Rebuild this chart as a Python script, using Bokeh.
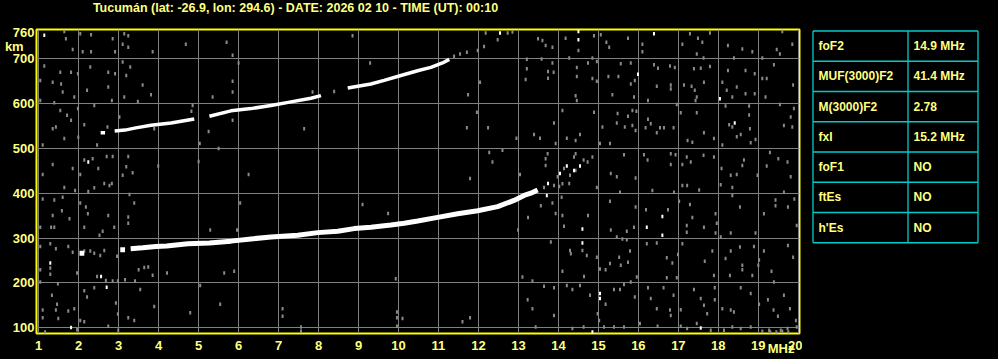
from bokeh.plotting import figure
from bokeh.models import Range1d, FixedTicker, LinearAxis
from bokeh.layouts import row, column
from bokeh.core.properties import value
from bokeh.embed import file_html
from bokeh.resources import INLINE

# ---------------- data ----------------
station = "Tucumán"
lat, lon = -26.9, 294.6
date_str = "2026 02 10"
time_ut = "00:10"
title_text = f"{station} (lat: {lat}, lon: {lon}) - DATE: {date_str} - TIME (UT): {time_ut}"

freq_ticks = list(range(1, 21))                          # MHz
height_ticks = [100, 200, 300, 400, 500, 600, 700, 760]  # km
grid_heights = [100, 200, 300, 400, 500, 600, 700]
height_unit = "km"
freq_unit = "MHz"

params = ["foF2", "MUF(3000)F2", "M(3000)F2", "fxI", "foF1", "ftEs", "h'Es"]
param_values = ["14.9 MHz", "41.4 MHz", "2.78", "15.2 MHz", "NO", "NO", "NO"]

# first-hop F2 trace (frequency MHz, virtual height km), in segments
f2_seg1_f = [2.02, 2.14]
f2_seg1_h = [266, 266]
f2_seg2_f = [3.04, 3.16]
f2_seg2_h = [274, 274]
f2_main_f = [3.30, 3.60, 3.93, 4.20, 4.73, 5.27, 5.81, 6.31, 6.81, 7.48, 7.98, 8.48,
             8.89, 9.31, 9.81, 10.14, 10.48, 10.98, 11.48, 11.98, 12.48, 12.89, 13.14,
             13.31, 13.48]
f2_main_h = [276, 278, 281, 282, 287, 289, 293, 298, 302, 306, 312, 315,
             321, 324, 329, 333, 338, 346, 354, 361, 370, 384, 395,
             400, 407]

# second-hop F2 trace
hop2_seg1_f = [2.55, 2.66]
hop2_seg1_h = [535, 535]
hop2_seg2_f = [2.90, 3.16, 3.43, 3.81, 4.31, 4.89]
hop2_seg2_h = [539, 541, 546, 552, 557, 566]
hop2_seg3_f = [5.27, 5.81, 6.31, 6.81, 7.31, 7.81, 8.06]
hop2_seg3_h = [572, 584, 589, 596, 604, 612, 618]
hop2_seg4_f = [8.73, 9.31, 9.64, 10.06, 10.50, 10.81, 11.10, 11.27]
hop2_seg4_h = [635, 644, 652, 663, 674, 681, 691, 699]

# scattered weak echoes (gray)
gray_echoes = [
    (1.64, 761), (1.68, 745), (2.04, 756), (2.31, 754), (2.85, 745), (3.14, 756), (3.24, 752),
    (1.85, 721), (2.1, 716), (2.31, 716), (2.91, 716), (3.1, 733), (3.24, 726), (3.85, 716),
    (4.68, 733), (5.7, 737), (5.85, 708), (6.0, 691), (8.85, 752), (9.29, 691), (1.14, 684),
    (1.54, 670), (1.81, 670), (1.98, 667), (2.29, 682), (2.74, 670), (2.91, 667), (3.1, 693),
    (3.19, 663), (3.29, 682), (1.04, 652), (1.35, 648), (1.56, 644), (1.6, 626), (1.89, 615),
    (2.21, 630), (2.74, 637), (2.83, 607), (3.14, 615), (3.48, 605), (3.6, 642), (3.81, 620),
    (1.04, 607), (1.39, 602), (1.54, 585), (1.71, 574), (1.81, 563), (1.98, 589), (2.39, 596),
    (3.02, 570), (1.35, 544), (1.43, 548), (1.64, 522), (1.99, 525), (2.14, 553), (2.46, 508),
    (2.72, 548), (3.89, 544), (4.82, 583), (4.85, 596), (5.25, 538), (5.03, 511), (5.5, 500),
    (5.85, 626), (5.85, 650), (5.35, 615), (5.85, 563), (7.64, 544), (7.85, 626), (8.39, 627),
    (1.1, 508), (1.35, 464), (2.14, 474), (2.35, 477), (2.49, 455), (2.7, 482), (2.85, 482),
    (3.19, 459), (3.35, 446), (3.24, 482), (1.85, 455), (2.04, 442), (1.1, 442), (3.99, 461),
    (5.0, 471), (6.25, 442), (3.1, 440),
    (12.18, 758), (12.73, 758), (12.85, 760), (12.48, 743), (12.14, 728), (11.98, 719),
    (11.71, 715), (11.54, 711), (11.39, 706), (13.49, 745), (13.6, 741), (13.85, 726),
    (13.68, 730), (14.5, 719), (14.18, 746), (14.89, 752), (15.06, 754), (15.2, 737),
    (15.27, 726), (15.74, 746), (16.1, 733), (16.1, 716), (17.29, 756), (17.49, 746),
    (17.79, 758), (17.6, 737), (17.1, 733), (18.24, 730), (18.6, 722), (18.85, 716),
    (19.6, 761), (19.85, 733), (19.46, 721), (19.54, 711), (18.39, 702), (19.1, 702),
    (17.63, 702), (17.46, 711), (13.21, 699), (13.58, 700), (13.85, 691), (13.74, 672),
    (13.88, 670), (13.21, 678), (13.74, 657), (13.18, 654), (12.04, 648), (14.27, 702),
    (14.46, 681), (14.74, 691), (14.85, 702), (14.96, 694), (15.56, 689), (15.81, 691),
    (16.49, 679), (16.39, 687), (16.79, 684), (16.91, 681), (17.39, 678), (17.56, 679),
    (17.79, 683), (18.24, 674), (18.68, 674), (18.91, 667), (19.1, 656), (19.21, 656),
    (19.39, 687), (19.87, 642), (14.46, 661), (14.85, 656), (14.96, 650), (15.25, 661),
    (15.5, 661), (15.91, 652), (15.81, 644), (16.46, 639), (16.81, 642), (16.81, 633),
    (17.14, 642), (17.33, 639), (17.41, 630), (17.64, 648), (18.1, 648), (18.21, 630),
    (18.46, 637), (18.68, 622), (18.91, 622), (19.18, 615), (18.77, 595), (18.18, 595),
    (18.35, 615), (14.43, 618), (14.46, 607), (15.35, 620), (15.89, 615), (16.24, 607),
    (16.96, 598), (17.46, 615), (17.43, 607), (11.74, 620), (11.96, 581), (11.71, 546),
    (12.24, 546), (12.95, 523), (13.39, 531), (13.54, 523), (14.1, 585), (13.89, 557),
    (13.93, 511), (14.21, 523), (14.43, 518), (14.54, 531), (14.89, 581), (15.1, 548),
    (15.04, 511), (15.29, 511), (15.48, 578), (15.46, 557), (15.66, 548), (15.74, 572),
    (15.85, 585), (15.95, 583), (15.85, 551), (15.93, 540), (16.24, 565), (16.31, 555),
    (16.18, 546), (16.54, 546), (16.64, 546), (16.46, 535), (16.88, 546), (17.06, 580),
    (17.46, 580), (17.23, 518), (17.35, 514), (17.64, 535), (17.89, 522), (18.1, 508),
    (18.27, 553), (18.46, 526), (18.35, 548), (18.56, 531), (18.77, 575), (18.79, 544),
    (18.93, 520), (18.81, 513), (19.64, 551), (19.81, 570), (19.89, 589), (19.85, 548),
    (19.54, 598), (14.14, 455), (14.29, 440), (14.43, 451), (14.39, 481), (14.43, 488),
    (13.98, 437), (13.68, 477), (13.73, 488), (13.68, 462), (14.63, 474), (14.73, 470),
    (14.85, 481), (12.27, 491), (12.6, 496), (12.35, 470), (11.79, 433), (13.04, 442),
    (15.31, 444), (15.46, 437), (15.64, 486), (15.93, 434), (16.14, 486), (16.23, 474),
    (16.81, 488), (16.93, 486), (16.81, 464), (17.1, 464), (17.21, 481), (17.31, 470),
    (17.63, 485), (17.89, 481), (18.08, 455), (18.31, 440), (18.46, 442), (18.64, 474),
    (18.6, 462), (18.98, 440), (19.21, 461), (19.29, 491), (19.5, 477), (19.73, 470),
    (19.81, 437),
    (1.64, 413), (1.91, 406), (2.24, 404), (2.39, 412), (2.64, 422), (2.77, 417), (2.83, 422),
    (3.27, 397), (1.1, 387), (1.39, 385), (1.6, 391), (2.04, 378), (2.18, 369), (1.58, 361),
    (1.35, 350), (1.77, 343), (2.23, 354), (2.74, 350), (3.24, 347), (3.24, 333), (3.39, 378),
    (1.31, 324), (1.39, 324), (2.14, 324), (2.52, 306), (2.6, 315), (2.89, 324), (1.04, 281),
    (1.29, 287), (1.43, 276), (1.74, 281), (1.85, 268), (2.14, 271), (2.29, 271), (2.39, 266),
    (2.64, 272), (2.54, 261), (2.96, 259), (1.29, 233), (1.04, 229), (1.29, 219), (1.96, 222),
    (2.46, 214), (2.68, 205), (2.85, 204), (2.98, 204), (3.16, 207), (3.41, 204), (3.5, 229),
    (3.64, 234), (3.74, 235), (3.85, 217), (4.21, 222), (1.04, 202), (1.48, 198), (2.14, 182),
    (2.21, 168), (2.39, 189), (1.33, 172), (1.46, 152), (1.1, 139), (1.43, 139), (1.74, 137),
    (1.89, 142), (1.49, 120), (1.1, 122), (2.04, 116), (2.14, 113), (2.74, 103), (2.93, 155),
    (2.98, 130), (3.24, 122), (3.39, 116), (3.54, 185), (3.89, 147), (4.79, 133), (5.04, 194),
    (5.54, 152), (5.29, 318), (5.96, 318), (6.04, 378), (5.64, 222), (5.89, 226), (7.1, 142),
    (7.1, 125), (7.56, 101), (7.56, 92), (9.1, 375), (9.74, 355), (9.93, 209), (9.96, 135),
    (9.96, 122), (10.1, 120), (9.96, 103), (1.16, 90), (1.96, 95), (2.99, 94), (1.04, 324),
    (13.89, 417), (14.02, 415), (14.1, 421), (14.27, 422), (13.64, 413), (14.08, 391),
    (13.85, 378), (13.56, 372), (13.93, 355), (14.1, 350), (14.14, 326), (13.24, 346),
    (12.99, 318), (14.74, 350), (14.96, 413), (15.29, 382), (15.31, 318), (15.54, 402),
    (15.46, 302), (15.71, 315), (15.71, 296), (15.6, 298), (15.93, 369), (15.89, 324),
    (16.19, 363), (16.35, 406), (16.74, 363), (16.89, 402), (17.02, 382), (17.29, 375),
    (17.35, 346), (17.21, 328), (17.21, 313), (17.1, 417), (17.22, 417), (17.52, 407),
    (17.64, 324), (17.93, 354), (17.96, 333), (17.93, 311), (18.06, 302), (18.06, 419),
    (18.35, 413), (18.35, 395), (18.54, 369), (18.31, 311), (18.93, 311), (19.14, 354),
    (19.43, 385), (19.43, 372), (19.64, 402), (19.74, 369), (19.96, 328), (19.9, 387),
    (13.81, 291), (14.29, 272), (14.31, 265), (14.6, 272), (14.71, 261), (14.96, 257),
    (15.04, 231), (15.18, 229), (15.29, 243), (15.52, 257), (15.74, 246), (15.56, 239),
    (15.79, 271), (15.96, 213), (16.21, 287), (16.46, 289), (16.71, 256), (16.71, 211),
    (16.96, 211), (16.99, 263), (16.85, 244), (17.1, 287), (17.66, 248), (17.85, 271),
    (17.89, 216), (18.18, 254), (18.31, 271), (18.29, 216), (18.6, 229), (18.6, 239),
    (18.54, 280), (18.85, 216), (18.89, 281), (19.02, 251), (19.14, 271), (19.0, 239),
    (19.33, 226), (19.39, 202), (19.74, 283), (19.87, 257), (13.1, 213), (13.35, 204),
    (13.64, 192), (13.89, 189), (14.1, 226), (14.21, 194), (14.35, 185), (14.54, 194),
    (14.64, 214), (14.79, 172), (15.18, 152), (15.39, 185), (15.54, 185), (15.64, 196),
    (15.81, 202), (15.91, 168), (16.24, 189), (16.31, 165), (16.46, 142), (16.63, 189),
    (16.79, 139), (16.88, 172), (17.06, 140), (17.39, 185), (17.56, 165), (17.64, 150),
    (17.72, 131), (17.91, 189), (17.91, 162), (18.1, 142), (18.31, 139), (18.39, 135),
    (18.56, 189), (18.81, 176), (19.02, 152), (19.24, 162), (19.38, 139), (19.49, 125),
    (19.64, 172), (19.79, 142), (19.94, 116), (13.23, 162), (13.35, 142), (11.6, 113),
    (11.79, 122), (13.43, 101), (13.89, 127), (14.35, 98), (14.63, 101), (14.98, 131),
    (15.02, 116), (15.14, 101), (15.39, 101), (15.64, 101), (16.04, 109), (16.48, 103),
    (16.81, 127), (17.06, 103), (17.22, 98), (17.46, 109), (17.81, 94), (18.14, 94),
    (18.35, 101), (18.56, 98), (18.81, 101), (19.27, 94), (19.56, 94), (19.73, 98),
    (19.96, 101), (19.1, 92), (19.3, 90), (19.45, 90), (19.6, 92), (19.75, 90),
]
gray_f = [e[0] for e in gray_echoes]
gray_h = [e[1] for e in gray_echoes]

# isolated strong echoes (white)
white_echoes = [
    (1.14, 753), (2.24, 470), (12.54, 758), (14.5, 761), (14.5, 743), (16.39, 756),
    (15.99, 666), (18.04, 611), (18.41, 557), (14.04, 444), (14.21, 461), (14.39, 451),
    (14.54, 461), (1.29, 244), (2.56, 214), (2.7, 190), (1.81, 100), (13.74, 422),
    (13.71, 395), (14.6, 320), (14.6, 289), (16.21, 324), (16.6, 348), (16.6, 306),
    (15.04, 176), (15.04, 165), (14.85, 90), (17.56, 99),
]
white_f = [e[0] for e in white_echoes]
white_h = [e[1] for e in white_echoes]

# ---------------- styling ----------------
YELLOW_TXT = "#FFFF80"
FONT = "Liberation Sans"
GRAY = "#8a8a8a"
GRID_GRAY = "#808080"
CYAN = "#00CCCC"
NBSP = "\u00a0"
BLACK_BG = {"background-color": "black"}

HEAD_H = 18        # title strip height (page px)
PAGE_H = 359
FRAME_TOP = 29     # page row of the ionogram frame top
FRAME_BOTTOM = 333

# ---------------- title strip ----------------
head = figure(width=998, height=HEAD_H, x_range=Range1d(0, 998), y_range=Range1d(HEAD_H, 0),
              output_backend="svg", toolbar_location=None, min_border=0,
              x_axis_location=None, y_axis_location=None,
              background_fill_color="black", border_fill_color="black")
head.outline_line_color = None
head.grid.visible = False
head.text(x=[295], y=[7], text=[title_text], text_color=YELLOW_TXT, text_font=value(FONT),
          text_font_style="bold", text_font_size="12.5px", text_align="center",
          text_baseline="middle")

# ---------------- ionogram ----------------
body_h = PAGE_H - HEAD_H
p = figure(width=802, height=body_h,
           x_range=Range1d(0.945, 20.03), y_range=Range1d(86.7, 765.7),
           output_backend="svg", toolbar_location=None,
           min_border_left=36, min_border_right=3,
           min_border_top=FRAME_TOP - HEAD_H, min_border_bottom=PAGE_H - FRAME_BOTTOM,
           background_fill_color="black", border_fill_color="black")
p.outline_line_color = "#FFFF00"
p.outline_line_width = 2

p.xaxis.ticker = FixedTicker(ticks=freq_ticks)
p.yaxis.ticker = FixedTicker(ticks=height_ticks + [728])
p.yaxis.major_label_overrides = {728: height_unit + NBSP * 3}

unit_axis = LinearAxis(ticker=FixedTicker(ticks=[19.57]),
                       major_label_overrides={19.57: freq_unit})
p.add_layout(unit_axis, "below")

for ax in (p.xaxis[0], p.yaxis[0], unit_axis):
    ax.axis_line_color = None
    ax.major_tick_line_color = None
    ax.minor_tick_line_color = None
    ax.major_tick_out = 0
    ax.major_tick_in = 0
    ax.minor_tick_out = 0
    ax.major_label_text_color = YELLOW_TXT
    ax.major_label_text_font = FONT
    ax.major_label_text_font_style = "bold"
    ax.major_label_text_font_size = "13px"
p.xaxis[0].major_label_standoff = 7
unit_axis.major_label_standoff = -12
p.yaxis[0].major_label_standoff = 2

p.xgrid.ticker = FixedTicker(ticks=freq_ticks)
p.ygrid.ticker = FixedTicker(ticks=grid_heights)
p.grid.grid_line_color = GRID_GRAY
p.grid.grid_line_width = 1

p.rect(x=gray_f, y=gray_h, width=2, height=3.5, width_units="screen", height_units="screen",
       fill_color=GRAY, line_color=None)
p.rect(x=white_f, y=white_h, width=2, height=3.5, width_units="screen", height_units="screen",
       fill_color="white", line_color=None)

p.multi_line(xs=[f2_seg1_f, f2_seg2_f, f2_main_f], ys=[f2_seg1_h, f2_seg2_h, f2_main_h],
             line_color="white", line_width=5)
p.multi_line(xs=[hop2_seg1_f, hop2_seg2_f, hop2_seg3_f, hop2_seg4_f],
             ys=[hop2_seg1_h, hop2_seg2_h, hop2_seg3_h, hop2_seg4_h],
             line_color="white", line_width=3.5)

# ---------------- parameter table ----------------
# its frame is aligned with the ionogram frame (page rows FRAME_TOP..FRAME_BOTTOM)
t = figure(width=196, height=body_h, x_range=Range1d(802, 998),
           y_range=Range1d(FRAME_BOTTOM, FRAME_TOP),
           output_backend="svg", toolbar_location=None,
           min_border_left=0, min_border_right=0,
           min_border_top=FRAME_TOP - HEAD_H, min_border_bottom=PAGE_H - FRAME_BOTTOM,
           x_axis_location=None, y_axis_location=None,
           background_fill_color="black", border_fill_color="black")
t.outline_line_color = None
t.grid.visible = False

left, col, right = 812.5, 907.5, 977.5
top, row_h = 30.5, 30.25
n = len(params)
hy = [top + i * row_h for i in range(n + 1)]
t.segment(x0=[left] * (n + 1), y0=hy, x1=[right] * (n + 1), y1=hy, line_color=CYAN, line_width=1.3)
t.segment(x0=[left, col, right], y0=[top] * 3, x1=[left, col, right], y1=[top + n * row_h] * 3,
          line_color=CYAN, line_width=1.3)
ty = [top + (i + 0.5) * row_h for i in range(n)]
t.text(x=[818] * n, y=ty, text=params, text_color=YELLOW_TXT, text_font=value(FONT),
       text_font_style="bold", text_font_size="12px", text_baseline="middle")
t.text(x=[913] * n, y=ty, text=param_values, text_color=YELLOW_TXT, text_font=value(FONT),
       text_font_style="bold", text_font_size="12px", text_baseline="middle")

layout = column(head, row(p, t, styles=BLACK_BG), styles=BLACK_BG)
open("out.html", "w").write(file_html(layout, INLINE))
